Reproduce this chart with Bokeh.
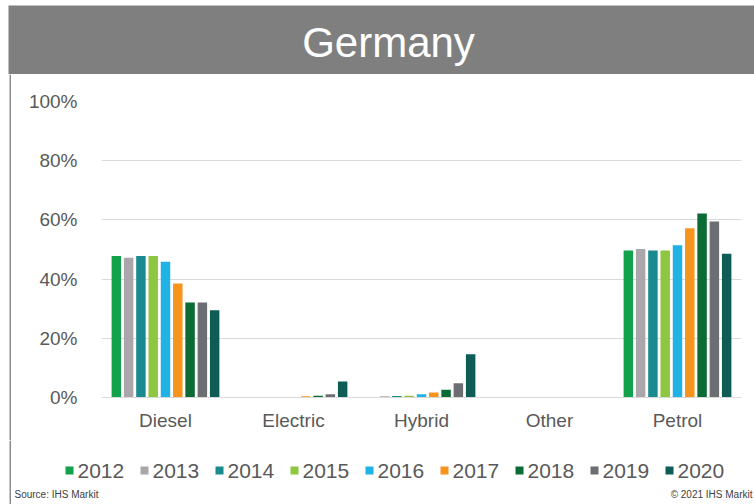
from bokeh.plotting import figure
from bokeh.layouts import column, row
from bokeh.models import ColumnDataSource, FactorRange, FixedTicker
from bokeh.core.properties import value
from bokeh.transform import dodge
from bokeh.embed import file_html
from bokeh.resources import INLINE

title_text = "Germany"
categories = ["Diesel", "Electric", "Hybrid", "Other", "Petrol"]
years = ["2012", "2013", "2014", "2015", "2016", "2017", "2018", "2019", "2020"]
colors = ["#12a24b", "#aaa6ab", "#1a8a8f", "#8dc63f", "#1fb3e5",
          "#f7941d", "#0b6b35", "#6d6e71", "#0d5c56"]

# share of new registrations (%), per fuel type
v2012 = [47.8, 0.0, 0.0, 0.0, 49.7]
v2013 = [47.2, 0.0, 0.4, 0.0, 50.2]
v2014 = [47.8, 0.0, 0.5, 0.0, 49.7]
v2015 = [47.8, 0.1, 0.6, 0.0, 49.7]
v2016 = [45.9, 0.1, 1.1, 0.0, 51.4]
v2017 = [38.5, 0.4, 1.7, 0.0, 57.2]
v2018 = [32.1, 0.6, 2.6, 0.0, 62.2]
v2019 = [32.1, 1.1, 4.8, 0.0, 59.5]
v2020 = [29.5, 5.4, 14.6, 0.0, 48.6]

y_ticks = [0, 20, 40, 60, 80, 100]
y_tick_labels = ["0%", "20%", "40%", "60%", "80%", "100%"]

source_note = "Source: IHS Markit"
copyright_note = "\u00a9 2021 IHS Markit"

FONT = "Liberation Sans"
TXT = "#595959"
BORDER = "#8c8c8c"

W, H = 754, 504
HEAD_H = 74
FOOT_H = 64
BODY_H = H - HEAD_H - FOOT_H


def bare(fig):
    fig.axis.visible = False
    fig.grid.visible = False
    fig.outline_line_color = None
    fig.background_fill_color = "white"
    fig.border_fill_color = "white"
    return fig


# ---- header band -------------------------------------------------------
header = bare(figure(width=W, height=HEAD_H, x_range=(0, W), y_range=(HEAD_H, 0),
                     output_backend="svg", toolbar_location=None, min_border=0))
header.quad(left=[8], right=[W], top=[5], bottom=[HEAD_H],
            fill_color="#7f7f7f", line_color=None)
header.text(x=[388], y=[42], text=[title_text], text_font_size="42px",
            text_color="white", text_align="center", text_baseline="middle",
            text_font=value(FONT))

# ---- left border beside the chart ---------------------------------------
border = bare(figure(width=11, height=BODY_H, x_range=(0, 11), y_range=(0, BODY_H),
                     output_backend="svg", toolbar_location=None, min_border=0))
border.quad(left=[9], right=[10.5], top=[BODY_H], bottom=[0],
            fill_color=BORDER, line_color=None)

# ---- main chart --------------------------------------------------------
series = [v2012, v2013, v2014, v2015, v2016, v2017, v2018, v2019, v2020]
data = {"cat": categories}
for y, s in zip(years, series):
    data[y] = s
src = ColumnDataSource(data)

p = figure(x_range=FactorRange(*categories, range_padding=0), y_range=(0, 100),
           width=W - 11, height=BODY_H, output_backend="svg", toolbar_location=None,
           min_border_left=90, min_border_right=13, min_border_top=27,
           min_border_bottom=BODY_H - 27 - 296)
p.outline_line_color = None
p.background_fill_color = "white"
p.border_fill_color = "white"

step = 0.096
for i, (y, c) in enumerate(zip(years, colors)):
    p.vbar(x=dodge("cat", (i - 4) * step, range=p.x_range), top=y,
           width=0.074, source=src, fill_color=c, line_color=None)

p.yaxis.ticker = FixedTicker(ticks=y_ticks)
p.yaxis.major_label_overrides = {t: l for t, l in zip(y_ticks, y_tick_labels)}
p.yaxis.axis_line_color = None
p.yaxis.major_tick_line_color = None
p.yaxis.minor_tick_line_color = None
p.yaxis.major_label_standoff = 18
p.yaxis.major_label_text_font = FONT
p.yaxis.major_label_text_font_size = "19px"
p.yaxis.major_label_text_color = TXT

p.xaxis.axis_line_color = "#d9d9d9"
p.xaxis.major_tick_line_color = None
p.xaxis.minor_tick_line_color = None
p.xaxis.major_label_standoff = 6
p.xaxis.major_label_text_font = FONT
p.xaxis.major_label_text_font_size = "19px"
p.xaxis.major_label_text_color = TXT

p.xgrid.grid_line_color = None
p.ygrid.grid_line_color = "#d9d9d9"

# ---- footer: legend + notes ---------------------------------------------
footer = bare(figure(width=W, height=FOOT_H, x_range=(0, W), y_range=(FOOT_H, 0),
                     output_backend="svg", toolbar_location=None, min_border=0))
footer.quad(left=[9], right=[10.5], top=[0], bottom=[FOOT_H],
            fill_color=BORDER, line_color=None)

pitch = 75
leg = ColumnDataSource(dict(
    mx=[69 + i * pitch for i in range(len(years))],
    tx=[77 + i * pitch for i in range(len(years))],
    y=[30] * len(years), label=years, color=colors))
footer.scatter(x="mx", y="y", marker="square", size=8, fill_color="color",
               line_color=None, source=leg)
footer.text(x="tx", y="y", text="label", text_font_size="21px", text_color=TXT,
            text_align="left", text_baseline="middle", text_font=value(FONT),
            source=leg)

footer.text(x=[14], y=[54], text=[source_note], text_font_size="10px",
            text_color="#404040", text_align="left", text_baseline="middle",
            text_font=value(FONT))
footer.text(x=[752], y=[54], text=[copyright_note], text_font_size="10px",
            text_color="#404040", text_align="right", text_baseline="middle",
            text_font=value(FONT))

layout = column(header, row(border, column(p, spacing=0), spacing=0), footer,
                spacing=0)
open("out.html", "w").write(file_html(layout, INLINE))
